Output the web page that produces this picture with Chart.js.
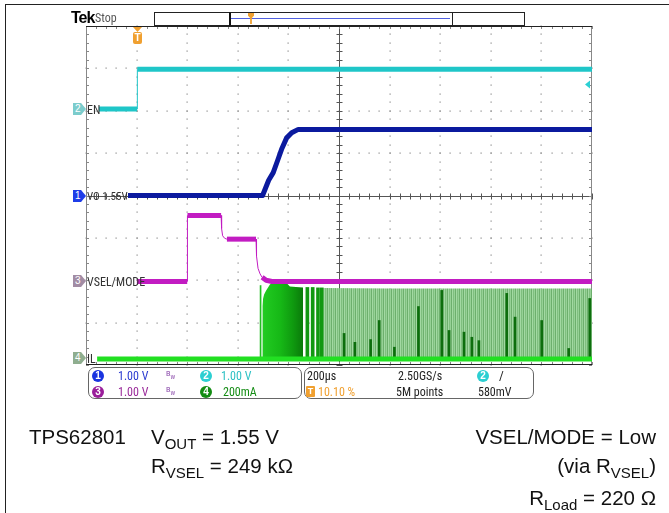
<!DOCTYPE html>
<html><head><meta charset="utf-8">
<script src="https://cdn.jsdelivr.net/npm/chart.js@4.4.1/dist/chart.umd.min.js"></script>
<style>
html,body{margin:0;padding:0;background:#fff;}
#wrap{position:relative;width:669px;height:513px;overflow:hidden;background:#fff;}
canvas{position:absolute;left:0;top:0;}
.t{position:absolute;white-space:nowrap;font-family:"Liberation Sans Narrow","Roboto Condensed","Liberation Sans",Arial,sans-serif;line-height:1;font-size:12px;}
.cap{position:absolute;white-space:nowrap;font-family:"Liberation Sans",Arial,sans-serif;font-size:20.5px;line-height:1;color:#111;}
.cap sub{font-size:15px;vertical-align:-5px;line-height:0;}
.mk{position:absolute;width:13px;height:12px;clip-path:polygon(0 0,62% 0,100% 50%,62% 100%,0 100%);color:#fff;font-family:"Liberation Sans",Arial,sans-serif;font-size:10px;line-height:12px;text-indent:2px;}
.cir{position:absolute;width:12px;height:12px;border-radius:6px;color:#fff;text-align:center;font-family:"Liberation Sans",Arial,sans-serif;font-size:10px;font-weight:bold;line-height:12px;}
.panel{position:absolute;border:1px solid #666;border-radius:7px;background:#fff;}
</style></head>
<body>
<div id="wrap">
<canvas id="c" width="669" height="513"></canvas>
<div style="position:absolute;left:5px;top:4px;width:664px;height:1px;background:#222"></div>
<div style="position:absolute;left:5px;top:4px;width:1px;height:509px;background:#222"></div>

<!-- header -->
<div class="t" style="left:71px;top:10px;font-weight:bold;font-size:16px;letter-spacing:-1px;font-family:'Liberation Sans',Arial,sans-serif">Tek</div>
<div class="t" style="left:95px;top:12px;font-size:12px;color:#555">Stop</div>
<div style="position:absolute;left:154px;top:12px;width:369px;height:12px;border:1px solid #222;background:#fff"></div>
<div style="position:absolute;left:229px;top:12px;width:221px;height:12px;border:1px solid #222;border-left:2px solid #111"></div>
<div style="position:absolute;left:231px;top:18px;width:219px;height:1px;background:#5060e0"></div>
<div style="position:absolute;left:248px;top:13px;width:6px;height:11px;background:#f0a030;clip-path:polygon(0 0,100% 0,100% 25%,65% 45%,65% 100%,35% 100%,35% 45%,0 25%)"></div>
<div style="position:absolute;left:133px;top:27px;width:9px;height:5px;background:#f0a030;clip-path:polygon(0 0,100% 0,50% 100%)"></div>
<div style="position:absolute;left:133px;top:32px;width:9px;height:12px;background:#f0a030;border-radius:2px;color:#fff;font:bold 10px 'Liberation Sans',Arial;text-align:center;line-height:12px">T</div>

<!-- channel markers -->
<div class="mk" style="left:73px;top:103px;background:#7ccccc">2</div>
<div class="t" style="left:87px;top:104px;color:#333">EN</div>
<div class="mk" style="left:73px;top:190px;background:#1f3de8">1</div>
<div class="t" style="left:87px;top:191px;color:#333;font-size:11px">VO 1.55V</div>
<div class="mk" style="left:73px;top:275px;background:#a28ca4">3</div>
<div class="t" style="left:87px;top:276px;color:#333">VSEL/MODE</div>
<div class="mk" style="left:73px;top:352px;background:#8fae8f">4</div>
<div class="t" style="left:87px;top:353px;color:#333">IL</div>

<!-- info panels -->
<div class="panel" style="left:88px;top:367px;width:212px;height:30px"></div>
<div class="panel" style="left:304px;top:367px;width:228px;height:30px"></div>
<div class="cir" style="left:92px;top:370px;background:#1a34e0">1</div>
<div class="t" style="left:118px;top:370px;color:#2a3ad0">1.00 V</div>
<div class="t" style="left:166px;top:370px;color:#8a4aaa;font-size:8px">B<sub style="font-size:6px">W</sub></div>
<div class="cir" style="left:200px;top:370px;background:#2ccfd2">2</div>
<div class="t" style="left:221px;top:370px;color:#2cc0c4">1.00 V</div>
<div class="cir" style="left:92px;top:386px;background:#9a1e9a">3</div>
<div class="t" style="left:118px;top:386px;color:#9a2a9a">1.00 V</div>
<div class="t" style="left:166px;top:386px;color:#8a4aaa;font-size:8px">B<sub style="font-size:6px">W</sub></div>
<div class="cir" style="left:200px;top:386px;background:#148c14">4</div>
<div class="t" style="left:223px;top:386px;color:#148c14">200mA</div>

<div class="t" style="left:307px;top:370px;color:#222">200µs</div>
<div class="t" style="left:398px;top:370px;color:#222">2.50GS/s</div>
<div class="cir" style="left:477px;top:370px;background:#2ccfd2">2</div>
<div class="t" style="left:499px;top:369px;color:#222;font-size:13px">/</div>
<div style="position:absolute;left:306px;top:386px;width:9px;height:11px;background:#f0a030;border-radius:1px;color:#fff;font:bold 9px 'Liberation Sans',Arial;text-align:center;line-height:11px">T</div>
<div class="t" style="left:318px;top:386px;color:#f0a030">10.10 %</div>
<div class="t" style="left:396px;top:386px;color:#222">5M points</div>
<div class="t" style="left:478px;top:386px;color:#222">580mV</div>

<!-- caption -->
<div class="cap" style="left:29px;top:427px">TPS62801</div>
<div class="cap" style="left:151px;top:427px">V<sub>OUT</sub> = 1.55 V</div>
<div class="cap" style="left:151px;top:456px">R<sub>VSEL</sub> = 249 kΩ</div>
<div class="cap" style="right:13px;top:427px">VSEL/MODE = Low</div>
<div class="cap" style="right:13px;top:456px">(via R<sub>VSEL</sub>)</div>
<div class="cap" style="right:13px;top:488px">R<sub>Load</sub> = 220 Ω</div>
</div>

<script>
// ---------------- data (read from the scope capture) ----------------
// time axis: 200 µs/div, 10 divisions, trigger at 10.10 %
const timeMin = -202;
const timeMax = 1798;
const timePerDiv = 200;

// Ch2  EN (V, 1.00 V/div)
const enTime = [-151, 0, 1, 1798];
const enVolt = [0, 0, 0.94, 0.94];
const trigLevel = 0.58; // V, trigger level on ch2

// Ch1  VO (V, 1.00 V/div)
const voTime = [-36, 496, 520, 538, 555, 571, 591, 611, 637, 1798];
const voVolt = [0, 0, 0.36, 0.54, 0.82, 1.09, 1.36, 1.48, 1.56, 1.56];

// Ch3  VSEL/MODE (V, 1.00 V/div)
const vselTime = [-1, 198, 199, 332, 334, 338, 346, 355, 470, 472, 478, 486, 494, 510, 533, 1798];
const vselVolt = [0, 0, 1.56, 1.56, 1.25, 1.08, 1.02, 1.0, 1.0, 0.6, 0.31, 0.18, 0.1, 0.03, 0, 0];

// Ch4  IL (mA, 200 mA/div)
const ilBaseTime = [-158, 1798];
const ilBaseAmp = [0, 0];
const ilBurstTime = [494, 496, 498, 502, 510, 525, 545, 565, 585, 604, 628, 656];
const ilBurstAmp = [0, 250, 286, 305, 324, 352, 371, 376, 366, 343, 340, 338];
const ilEdgeTime = [488];
const ilEdgeAmp = [347];
const ilPulseTime = [673, 694, 715, 730];
const ilPulseAmp = [338, 338, 336, 336];
const ilSwitchTime = [736, 1000, 1400, 1798];
const ilSwitchAmp = [335, 333, 333, 333];
const ilSpikeTime = [818, 861, 923, 957, 1017, 1112, 1204, 1233, 1292, 1323, 1351, 1461, 1494, 1599, 1706, 1789];
const ilSpikeAmp = [121, 79, 92, 182, 56, 248, 324, 135, 127, 103, 87, 310, 198, 182, 50, 286];

// channel vertical offsets (ground position in divisions from centre) and scale
const ch1Offset = 0, ch2Offset = 2.04, ch3Offset = -2.03, ch4Offset = -3.86;
const ch1Scale = 1, ch2Scale = 1, ch3Scale = 1, ch4Scale = 200;

// ---------------- build ----------------
const pts = (xs, ys) => xs.map((x, i) => ({x: x, y: ys[i]}));
const axisFor = (off, sc) => ({type: 'linear', display: false, min: (-4 - off) * sc, max: (4 - off) * sc});
const thinVert = w => ctx => (Math.abs(ctx.p1.x - ctx.p0.x) < 3 ? 1 : w);

function stripePattern() {
  const cv = document.createElement('canvas');
  cv.width = 4; cv.height = 4;
  const g = cv.getContext('2d');
  const cols = ['#a3d9a3', '#7fbf7f', '#96d196', '#6daf6d'];
  cols.forEach((c, i) => { g.fillStyle = c; g.fillRect(i, 0, 1, 4); });
  return g.createPattern(cv, 'repeat');
}

const tekGrid = {
  id: 'tekGrid',
  beforeDatasetsDraw(chart) {
    const c = chart.ctx, xs = chart.scales.x, ys = chart.scales.y1;
    const a = chart.chartArea;
    const L = a.left, R = a.right, T = a.top, B = a.bottom;
    const w = R - L, h = B - T;
    c.save();
    c.fillStyle = '#8a8a8a';
    for (let i = 1; i < 10; i++) {
      if (i === 5) continue;
      const x = Math.round(xs.getPixelForValue(timeMin + i * timePerDiv));
      for (let k = 0; k <= 40; k++) c.fillRect(x - 0.5, Math.round(T + k * h / 40) - 0.5, 1.2, 1.2);
    }
    for (let j = -3; j <= 3; j++) {
      if (j === 0) continue;
      const y = Math.round(ys.getPixelForValue(j));
      for (let k = 0; k <= 50; k++) c.fillRect(Math.round(L + k * w / 50) - 0.5, y - 0.5, 1.2, 1.2);
    }
    const cx = Math.round(xs.getPixelForValue(timeMin + 5 * timePerDiv)) + 0.5;
    const cy = Math.round(ys.getPixelForValue(0)) + 0.5;
    c.strokeStyle = '#555'; c.lineWidth = 1;
    c.beginPath();
    c.moveTo(L, cy); c.lineTo(R, cy);
    c.moveTo(cx, T); c.lineTo(cx, B);
    for (let k = 0; k <= 50; k++) { const x = Math.round(L + k * w / 50) + 0.5; c.moveTo(x, cy - 3); c.lineTo(x, cy + 3); }
    for (let k = 0; k <= 40; k++) { const y = Math.round(T + k * h / 40) + 0.5; c.moveTo(cx - 3, y); c.lineTo(cx + 3, y); }
    c.stroke();
    c.strokeStyle = '#888';
    c.beginPath();
    c.moveTo(L + 0.5, T); c.lineTo(L + 0.5, B);
    c.moveTo(R - 0.5, T); c.lineTo(R - 0.5, B);
    for (let k = 0; k <= 40; k++) {
      const y = Math.round(T + k * h / 40) + 0.5;
      c.moveTo(L, y); c.lineTo(L + 3, y);
      c.moveTo(R - 3, y); c.lineTo(R, y);
    }
    for (let k = 0; k <= 50; k++) {
      const x = Math.round(L + k * w / 50) + 0.5;
      c.moveTo(x, T); c.lineTo(x, T + 3);
      c.moveTo(x, B - 3); c.lineTo(x, B);
    }
    c.stroke();
    c.strokeStyle = '#222';
    c.beginPath();
    c.moveTo(L, T + 0.5); c.lineTo(R, T + 0.5);
    c.moveTo(L, B - 0.5); c.lineTo(R, B - 0.5);
    c.stroke();
    c.restore();
  },
  afterDatasetsDraw(chart) {
    const c = chart.ctx, a = chart.chartArea;
    const y = chart.scales.y2.getPixelForValue(trigLevel);
    c.save();
    c.fillStyle = '#2cd0d4';
    c.beginPath();
    c.moveTo(a.right - 7, y); c.lineTo(a.right - 2, y - 4); c.lineTo(a.right - 2, y + 4); c.closePath();
    c.fill();
    c.restore();
  }
};

const burstFill = ctx => {
  const chart = ctx.chart;
  if (!chart.chartArea) return '#1ec81e';
  const xs = chart.scales.x;
  const g = chart.ctx.createLinearGradient(xs.getPixelForValue(494), 0, xs.getPixelForValue(656), 0);
  g.addColorStop(0, '#22cc22');
  g.addColorStop(0.45, '#16b816');
  g.addColorStop(0.75, '#0f9a0f');
  g.addColorStop(1, '#0a7a0a');
  return g;
};

new Chart(document.getElementById('c'), {
  type: 'line',
  data: {
    datasets: [
      {label: 'EN', data: pts(enTime, enVolt), yAxisID: 'y2', borderColor: '#1fc6c8', borderWidth: 5,
       segment: {borderWidth: thinVert(5)}, order: 2},
      {label: 'VO', data: pts(voTime, voVolt), yAxisID: 'y1', borderColor: '#0b1a9e', borderWidth: 5, order: 1},
      {label: 'VSEL/MODE', data: pts(vselTime, vselVolt), yAxisID: 'y3', borderColor: '#c21cc2', borderWidth: 5,
       segment: {borderWidth: thinVert(5)}, order: 3},
      {label: 'IL base', data: pts(ilBaseTime, ilBaseAmp), yAxisID: 'y4', borderColor: '#22e022', borderWidth: 5, order: 4},
      {label: 'IL burst', data: pts(ilBurstTime, ilBurstAmp), yAxisID: 'y4', borderWidth: 0, borderColor: 'rgba(0,0,0,0)',
       backgroundColor: burstFill, fill: 'origin', order: 7},
      {label: 'IL switching', data: pts(ilSwitchTime, ilSwitchAmp), yAxisID: 'y4', borderWidth: 0, borderColor: 'rgba(0,0,0,0)',
       backgroundColor: stripePattern(), fill: 'origin', order: 8},
      {type: 'bar', label: 'IL edge', data: pts(ilEdgeTime, ilEdgeAmp), yAxisID: 'y4', backgroundColor: '#22c022',
       barThickness: 1, grouped: false, order: 6},
      {type: 'bar', label: 'IL pulses', data: pts(ilPulseTime, ilPulseAmp), yAxisID: 'y4', backgroundColor: '#129812',
       barThickness: 3, grouped: false, order: 6},
      {type: 'bar', label: 'IL spikes', data: pts(ilSpikeTime, ilSpikeAmp), yAxisID: 'y4', backgroundColor: '#0d6e0d',
       barThickness: 2, grouped: false, order: 5}
    ]
  },
  options: {
    responsive: false,
    animation: false,
    events: [],
    layout: {padding: {left: 86, right: 77, top: 26, bottom: 148}},
    elements: {point: {radius: 0}, line: {tension: 0, borderCapStyle: 'butt', borderJoinStyle: 'round'}},
    plugins: {legend: {display: false}, tooltip: {enabled: false}, title: {display: false}},
    scales: {
      x: {type: 'linear', display: false, min: timeMin, max: timeMax, offset: false},
      y1: axisFor(ch1Offset, ch1Scale),
      y2: axisFor(ch2Offset, ch2Scale),
      y3: axisFor(ch3Offset, ch3Scale),
      y4: axisFor(ch4Offset, ch4Scale)
    }
  },
  plugins: [tekGrid]
});
</script>
</body></html>
